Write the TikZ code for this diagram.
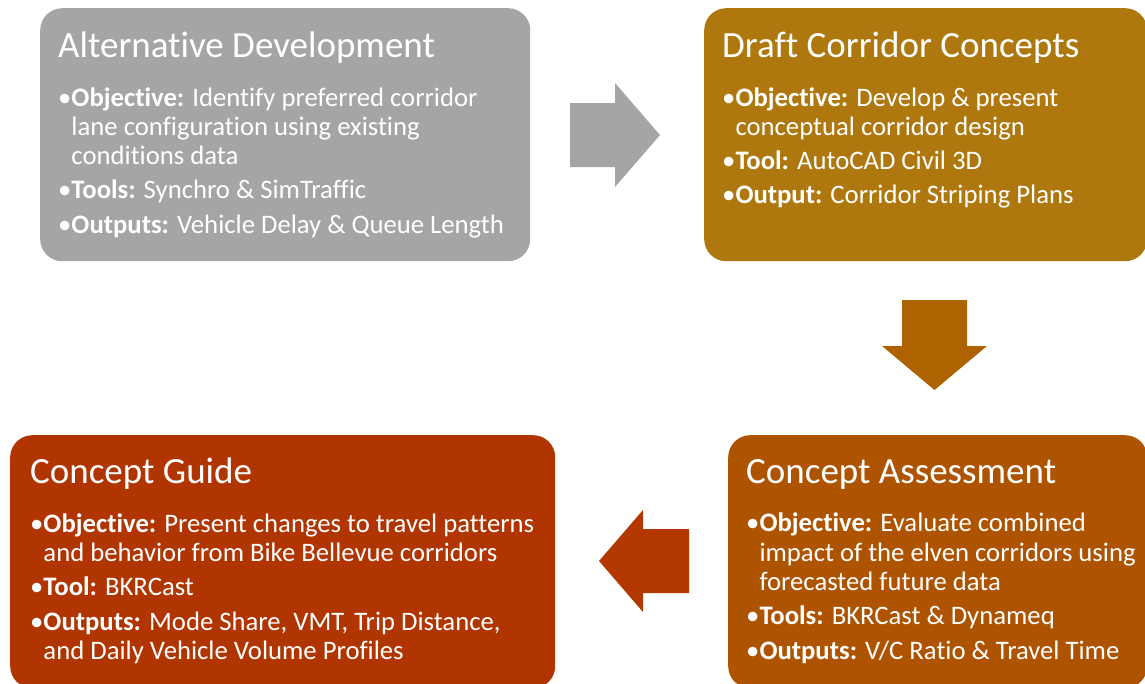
\documentclass[tikz,border=0pt]{standalone}
\usepackage{fontspec}
\setmainfont{Carlito}[Ligatures=NoCommon]
\definecolor{cgray}{HTML}{A5A5A5}
\definecolor{cgold}{HTML}{AE780E}
\definecolor{cdown}{HTML}{AE6300}
\definecolor{cassess}{HTML}{AE5400}
\definecolor{cguide}{HTML}{B13500}
\definecolor{cleft}{HTML}{B33800}
\begin{document}
\begin{tikzpicture}[x=1pt,y=-1pt,
  box/.style={rounded corners=22pt, draw=none, inner sep=0, anchor=north west},
  ttl/.style={anchor=base west, inner sep=0, text=white, font=\fontsize{37}{44}\selectfont},
  txt/.style={anchor=base west, inner sep=0, text=white, font=\fontsize{26.7}{32}\selectfont},
  blockarrow/.style={draw=none}]
\useasboundingbox (0,0) rectangle (1145,683);
% boxes
\node[box, fill=cgray, minimum width=490pt, minimum height=253pt] (b1) at (40,8) {};
\node[box, fill=cgold, minimum width=443pt, minimum height=253pt] (b2) at (704,8) {};
\node[box, fill=cguide, minimum width=545pt, minimum height=253pt] (b3) at (10,435) {};
\node[box, fill=cassess, minimum width=419pt, minimum height=253pt] (b4) at (728,435) {};
% arrows
\fill[cgray, blockarrow] (570,103) -- (615,103) -- (615,83) -- (660,135) -- (615,187) -- (615,167) -- (570,167) -- cycle;
\fill[cdown, blockarrow] (902,300) -- (967,300) -- (967,346) -- (987,346) -- (934.5,390) -- (882,346) -- (902,346) -- cycle;
\fill[cleft, blockarrow] (689,529) -- (643,529) -- (643,510) -- (599,561) -- (643,612) -- (643,593) -- (689,593) -- cycle;
% box 1
\node[ttl] (t1) at (58,57) {Alternative Development};
\node[txt] (t1a) at (58,106) {•\textbf{Objective:} Identify preferred corridor};
\node[txt] (t1b) at (58,135) {\hphantom{•}lane configuration using existing};
\node[txt] (t1c) at (58,164) {\hphantom{•}conditions data};
\node[txt] (t1d) at (58,198) {•\textbf{Tools:} Synchro \& SimTraffic};
\node[txt] (t1e) at (58,233) {•\textbf{Outputs:} Vehicle Delay \& Queue Length};
% box 2
\node[ttl] (t2) at (722,57) {Draft Corridor Concepts};
\node[txt] (t2a) at (722,106) {•\textbf{Objective:} Develop \& present};
\node[txt] (t2b) at (722,135) {\hphantom{•}conceptual corridor design};
\node[txt] (t2c) at (722,169) {•\textbf{Tool:} AutoCAD Civil 3D};
\node[txt] (t2d) at (722,203) {•\textbf{Output:} Corridor Striping Plans};
% box 3
\node[ttl] (t3) at (30,483) {Concept Guide};
\node[txt] (t3a) at (30,532) {•\textbf{Objective:} Present changes to travel patterns};
\node[txt] (t3b) at (30,561) {\hphantom{•}and behavior from Bike Bellevue corridors};
\node[txt] (t3c) at (30,595) {•\textbf{Tool:} BKRCast};
\node[txt] (t3d) at (30,630) {•\textbf{Outputs:} Mode Share, VMT, Trip Distance,};
\node[txt] (t3e) at (30,659) {\hphantom{•}and Daily Vehicle Volume Profiles};
% box 4
\node[ttl] (t4) at (746,483) {Concept Assessment};
\node[txt] (t4a) at (746,531) {•\textbf{Objective:} Evaluate combined};
\node[txt] (t4b) at (746,561) {\hphantom{•}impact of the elven corridors using};
\node[txt] (t4c) at (746,590) {\hphantom{•}forecasted future data};
\node[txt] (t4d) at (746,624) {•\textbf{Tools:} BKRCast \& Dynameq};
\node[txt] (t4e) at (746,659) {•\textbf{Outputs:} V/C Ratio \& Travel Time};
\end{tikzpicture}
\end{document}
